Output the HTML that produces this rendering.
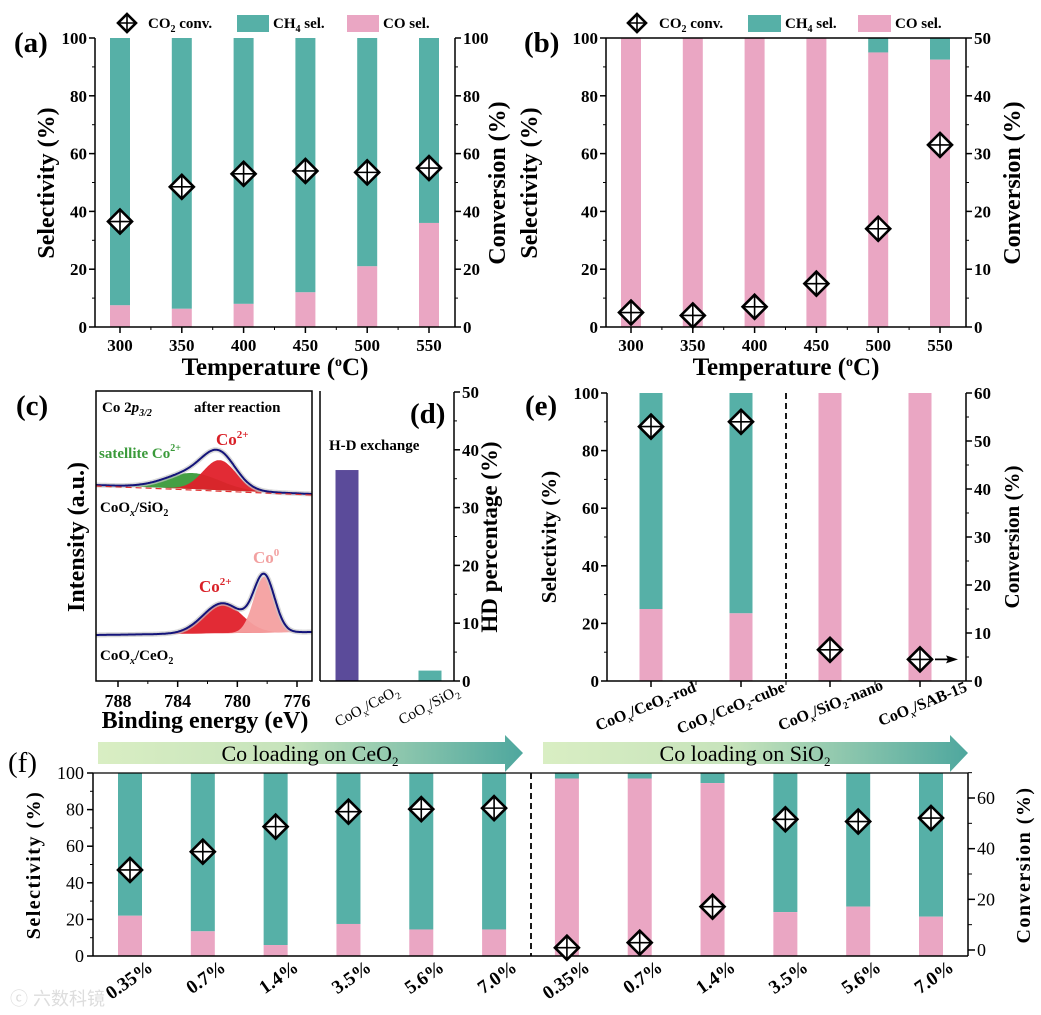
<!DOCTYPE html>
<html><head><meta charset="utf-8">
<style>
html,body{margin:0;padding:0;background:#fff;}
svg{display:block;font-family:"Liberation Serif",serif;font-weight:bold;}
</style></head>
<body>
<svg id="fig" xmlns="http://www.w3.org/2000/svg" width="1041" height="1015" viewBox="0 0 1041 1015">
<defs>
<linearGradient id="arrowGrad" x1="0" x2="1" y1="0" y2="0">
<stop offset="0" stop-color="#d9eec3"/><stop offset="0.45" stop-color="#c6e3bb"/><stop offset="1" stop-color="#4ea79e"/>
</linearGradient>
</defs>
<g id="gA"></g>
<g id="gB"></g>
<g id="gC"></g>
<g id="gD"></g>
<g id="gE"></g>
<g id="gF"></g>

<text x="14" y="52" font-size="29">(a)</text>
<text x="524" y="52" font-size="29">(b)</text>
<text x="16" y="415" font-size="29">(c)</text>
<text x="410" y="423" font-size="29">(d)</text>
<text x="525" y="415" font-size="29">(e)</text>
<text x="8" y="772" font-size="29" font-weight="normal">(f)</text>

<g font-size="15">
<text x="148" y="28">CO<tspan font-size="10" dy="4">2</tspan><tspan dy="-4"> conv.</tspan></text>
<rect x="237" y="15" width="32" height="17" fill="#56b0a7"/>
<text x="273" y="28">CH<tspan font-size="10" dy="4">4</tspan><tspan dy="-4"> sel.</tspan></text>
<rect x="347" y="15" width="32" height="17" fill="#eaa6c3"/>
<text x="383" y="28">CO sel.</text>
</g>
<g font-size="15">
<text x="659" y="28">CO<tspan font-size="10" dy="4">2</tspan><tspan dy="-4"> conv.</tspan></text>
<rect x="748" y="15" width="33" height="17" fill="#56b0a7"/>
<text x="785" y="28">CH<tspan font-size="10" dy="4">4</tspan><tspan dy="-4"> sel.</tspan></text>
<rect x="858" y="15" width="33" height="17" fill="#eaa6c3"/>
<text x="895" y="28">CO sel.</text>
</g>

<text transform="translate(54,183) rotate(-90)" text-anchor="middle" font-size="24">Selectivity (%)</text>
<text transform="translate(505,183) rotate(-90)" text-anchor="middle" font-size="24">Conversion (%)</text>
<text x="275" y="375" text-anchor="middle" font-size="25">Temperature (<tspan font-size="14" dy="-9">o</tspan><tspan dy="9">C)</tspan></text>
<text transform="translate(537,183) rotate(-90)" text-anchor="middle" font-size="24">Selectivity (%)</text>
<text transform="translate(1020,183) rotate(-90)" text-anchor="middle" font-size="24">Conversion (%)</text>
<text x="786" y="375" text-anchor="middle" font-size="25">Temperature (<tspan font-size="14" dy="-9">o</tspan><tspan dy="9">C)</tspan></text>

<text transform="translate(84,537) rotate(-90)" text-anchor="middle" font-size="24">Intensity (a.u.)</text>
<text x="205" y="728" text-anchor="middle" font-size="24">Binding energy (eV)</text>
<text transform="translate(497,537) rotate(-90)" text-anchor="middle" font-size="23">HD percentage (%)</text>
<text transform="translate(556,537) rotate(-90)" text-anchor="middle" font-size="21">Selectivity (%)</text>
<text transform="translate(1019,537) rotate(-90)" text-anchor="middle" font-size="21">Conversion (%)</text>
<text transform="translate(40,865) rotate(-90)" text-anchor="middle" font-size="20" letter-spacing="1.5">Selectivity (%)</text>
<text transform="translate(1030,865) rotate(-90)" text-anchor="middle" font-size="20" letter-spacing="1.5">Conversion (%)</text>

<g font-size="15">
<text x="102" y="412">Co 2<tspan font-style="italic">p</tspan><tspan font-size="10" dy="4" font-style="italic">3/2</tspan></text>
<text x="194" y="412">after reaction</text>
<text x="99" y="458" fill="#3a9a3a">satellite Co<tspan font-size="10" dy="-7">2+</tspan></text>
<text x="216" y="445" fill="#d92027" font-size="17">Co<tspan font-size="11" dy="-7">2+</tspan></text>
<text x="100" y="512">CoO<tspan font-size="10" dy="4" font-style="italic">x</tspan><tspan dy="-4">/SiO</tspan><tspan font-size="10" dy="4">2</tspan></text>
<text x="253" y="563" fill="#f2a0a0" font-size="17">Co<tspan font-size="11" dy="-7">0</tspan></text>
<text x="199" y="592" fill="#d92027" font-size="17">Co<tspan font-size="11" dy="-7">2+</tspan></text>
<text x="100" y="660">CoO<tspan font-size="10" dy="4" font-style="italic">x</tspan><tspan dy="-4">/CeO</tspan><tspan font-size="10" dy="4">2</tspan></text>
</g>
<text x="329" y="450" font-size="15">H-D exchange</text>

<text transform="translate(400,694) rotate(-28)" text-anchor="end" font-size="15" font-weight="normal">CoO<tspan font-size="10" dy="4">x</tspan><tspan dy="-4">/CeO</tspan><tspan font-size="10" dy="4">2</tspan></text>
<text transform="translate(460,694) rotate(-28)" text-anchor="end" font-size="15" font-weight="normal">CoO<tspan font-size="10" dy="4">x</tspan><tspan dy="-4">/SiO</tspan><tspan font-size="10" dy="4">2</tspan></text>

<g font-size="16">
<text transform="translate(697,691) rotate(-22)" text-anchor="end">CoO<tspan font-size="10" dy="4" font-style="italic">x</tspan><tspan dy="-4">/CeO</tspan><tspan font-size="10" dy="4">2</tspan><tspan dy="-4">-rod</tspan></text>
<text transform="translate(786,691) rotate(-22)" text-anchor="end">CoO<tspan font-size="10" dy="4" font-style="italic">x</tspan><tspan dy="-4">/CeO</tspan><tspan font-size="10" dy="4">2</tspan><tspan dy="-4">-cube</tspan></text>
<text transform="translate(884,689) rotate(-22)" text-anchor="end">CoO<tspan font-size="10" dy="4" font-style="italic">x</tspan><tspan dy="-4">/SiO</tspan><tspan font-size="10" dy="4">2</tspan><tspan dy="-4">-nano</tspan></text>
<text transform="translate(968,691) rotate(-22)" text-anchor="end">CoO<tspan font-size="10" dy="4" font-style="italic">x</tspan><tspan dy="-4">/SAB-15</tspan></text>
</g>

<g>
<polygon points="98,742 505,742 505,735 523,753 505,772 505,764 98,764" fill="url(#arrowGrad)"/>
<text x="310" y="761" text-anchor="middle" font-size="22" font-weight="normal">Co loading on CeO<tspan font-size="13" dy="5">2</tspan></text>
</g>
<g>
<polygon points="543,742 950,742 950,735 968,753 950,772 950,764 543,764" fill="url(#arrowGrad)"/>
<text x="745" y="761" text-anchor="middle" font-size="22" font-weight="normal">Co loading on SiO<tspan font-size="13" dy="5">2</tspan></text>
</g>
<text x="10" y="1005" font-size="18" fill="#dddddd" font-weight="normal" font-family="Liberation Sans, Noto Sans CJK SC, sans-serif">ⓒ 六数科镜</text>

<script>
const tempsA = [300, 350, 400, 450, 500, 550];
const coSelA = [7.5, 6.3, 8, 12, 21, 36];
const convA = [36.5, 48.5, 53, 54, 53.5, 55];

const tempsB = [300, 350, 400, 450, 500, 550];
const coSelB = [100, 100, 100, 100, 95, 92.5];
const convB = [2.5, 2, 3.5, 7.5, 17, 31.5];

const xpsTicks = [788, 784, 780, 776];
const peaksTop = [[783, 16, 1.8, "#3a9a3a"], [781.2, 30, 1.1, "#e0202a"]];
const peaksBottom = [[781, 30, 1.3, "#e0202a"], [778.2, 56, 0.7, "#f4a0a0"]];

const catsD = ["CoOx/CeO2", "CoOx/SiO2"];
const hdD = [36.5, 1.8];

const catsE = ["CoOx/CeO2-rod", "CoOx/CeO2-cube", "CoOx/SiO2-nano", "CoOx/SAB-15"];
const coSelE = [25, 23.5, 100, 100];
const convE = [53, 54, 6.5, 4.5];

const catsF = ["0.35%", "0.7%", "1.4%", "3.5%", "5.6%", "7.0%", "0.35%", "0.7%", "1.4%", "3.5%", "5.6%", "7.0%"];
const coSelF = [22, 13.5, 6, 17.5, 14.5, 14.5, 97, 97, 94.5, 24, 27, 21.5];
const convF = [31.6, 38.8, 48.7, 54.6, 55.6, 56, 0.9, 2.9, 17.1, 51.6, 50.7, 52.1];

const selTicks = [0, 20, 40, 60, 80, 100];

const NS = "http://www.w3.org/2000/svg";
const TEAL = "#56b0a7", PINK = "#eaa6c3";
function lin(d0, d1, r0, r1) { return v => r0 + (v - d0) * (r1 - r0) / (d1 - d0); }
function mk(parent, tag, attrs, name) {
  const el = document.createElementNS(NS, tag);
  for (const k in attrs) el.setAttribute(k, attrs[k]);
  
  
  parent.appendChild(el);
  return el;
}
function txt(parent, x, y, s, size, anchor, name) {
  const t = mk(parent, "text", { x: x, y: y, "font-size": size, "text-anchor": anchor }, name);
  t.textContent = s;
  return t;
}
function line(p, x1, y1, x2, y2, name, w, dash) {
  const a = { x1: x1, y1: y1, x2: x2, y2: y2, stroke: "#000", "stroke-width": w || 1.5 };
  if (dash) a["stroke-dasharray"] = dash;
  return mk(p, "line", a, name);
}
function diamond(p, cx, cy, r, name) {
  const g = mk(p, "g", {}, name);
  mk(g, "polygon", { points: `${cx},${cy - r} ${cx + r},${cy} ${cx},${cy + r} ${cx - r},${cy}`, fill: "#fff", stroke: "#000", "stroke-width": 2.6 }, 'marker-diamond');
  mk(g, "line", { x1: cx - r, y1: cy, x2: cx + r, y2: cy, stroke: "#000", "stroke-width": 1.6 }, 'marker-cross-h');
  mk(g, "line", { x1: cx, y1: cy - r, x2: cx, y2: cy + r, stroke: "#000", "stroke-width": 1.6 }, 'marker-cross-v');
  return g;
}
function leftAxis(p, x, y, ticks, minorStep, dom, size, name) {
  line(p, x, y(dom[0]), x, y(dom[1]), name + '-line');
  for (let v = dom[0]; v <= dom[1] + 1e-9; v += minorStep) line(p, x, y(v), x - 3, y(v), name + '-minor-tick', 1);
  ticks.forEach(v => { line(p, x, y(v), x - 6, y(v), name + '-tick', 1.5); txt(p, x - 8, y(v) + 6, String(v), size, "end", name + '-tick-label'); });
}
function rightAxis(p, x, y, ticks, minorStep, dom, size, name) {
  line(p, x, y(dom[0]), x, y(dom[1]), name + '-line');
  for (let v = dom[0]; v <= dom[1] + 1e-9; v += minorStep) line(p, x, y(v), x + 3, y(v), name + '-minor-tick', 1);
  ticks.forEach(v => { line(p, x, y(v), x + 6, y(v), name + '-tick', 1.5); txt(p, x + 8, y(v) + 6, String(v), size, "start", name + '-tick-label'); });
}

(function () {
  const g = document.getElementById('gA');
  const x = lin(300, 550, 120, 429), y = lin(0, 100, 327, 38), y2 = lin(0, 100, 327, 38);
  tempsA.forEach((t, i) => {
    const b1 = mk(g, "rect", { x: x(t) - 10, y: y(100), width: 20, height: y(coSelA[i]) - y(100), fill: TEAL }, 'bar');
    
    const b2 = mk(g, "rect", { x: x(t) - 10, y: y(coSelA[i]), width: 20, height: y(0) - y(coSelA[i]), fill: PINK }, 'bar');
    
  });
  leftAxis(g, 95, y, selTicks, 10, [0, 100], 17, 'y-axis-a');
  rightAxis(g, 455, y2, selTicks, 10, [0, 100], 17, 'y2-axis-a');
  line(g, 95, 327, 455, 327, 'x-axis-a');
  tempsA.forEach(t => { line(g, x(t), 327, x(t), 333, 'x-tick-a'); txt(g, x(t), 351, String(t), 17, "middle", 'x-tick-label-a'); });
  [325, 375, 425, 475, 525].forEach(t => line(g, x(t), 327, x(t), 330, 'x-minor-tick-a', 1));
  tempsA.forEach((t, i) => diamond(g, x(t), y2(convA[i]), 12, 'conv-marker-a'));
  diamond(g, 127, 23, 9, 'legend-marker-a');
})();

(function () {
  const g = document.getElementById('gB');
  const x = lin(300, 550, 631, 940), y = lin(0, 100, 327, 38), y2 = lin(0, 50, 327, 38);
  tempsB.forEach((t, i) => {
    const b1 = mk(g, "rect", { x: x(t) - 10, y: y(100), width: 20, height: y(coSelB[i]) - y(100), fill: TEAL }, 'bar');
    
    const b2 = mk(g, "rect", { x: x(t) - 10, y: y(coSelB[i]), width: 20, height: y(0) - y(coSelB[i]), fill: PINK }, 'bar');
    
  });
  leftAxis(g, 606, y, selTicks, 10, [0, 100], 17, 'y-axis-b');
  rightAxis(g, 966, y2, [0, 10, 20, 30, 40, 50], 5, [0, 50], 17, 'y2-axis-b');
  line(g, 606, 327, 966, 327, 'x-axis-b');
  line(g, 606, 38, 966, 38, 'top-axis-b');
  tempsB.forEach(t => { line(g, x(t), 327, x(t), 333, 'x-tick-b'); txt(g, x(t), 351, String(t), 17, "middle", 'x-tick-label-b'); });
  [325, 375, 425, 475, 525].forEach(t => line(g, x(t), 327, x(t), 330, 'x-minor-tick-b', 1));
  tempsB.forEach((t, i) => diamond(g, x(t), y2(convB[i]), 12, 'conv-marker-b'));
  diamond(g, 637, 23, 9, 'legend-marker-b');
})();

(function () {
  const g = document.getElementById('gC');
  const x = lin(788, 776, 118, 297);
  const E0 = 789.5, E1 = 775;
  function gauss(E, p) { return p[1] * Math.exp(-0.5 * Math.pow((E - p[0]) / p[2], 2)); }
  function draw(peaks, b0, b1, name) {
    const base = E => b0 + (b1 - b0) * (E0 - E) / (E0 - E1);
    peaks.forEach(p => {
      let d = "";
      for (let E = E0; E >= E1 - 1e-9; E -= 0.05) d += (d ? "L" : "M") + x(E).toFixed(1) + "," + (base(E) - gauss(E, p)).toFixed(1);
      for (let E = E1; E <= E0 + 1e-9; E += 0.5) d += "L" + x(E).toFixed(1) + "," + base(E).toFixed(1);
      mk(g, "path", { d: d + "Z", fill: p[3], opacity: 0.95 }, name + '-component');
    });
    let env = "";
    for (let E = E0; E >= E1 - 1e-9; E -= 0.05) {
      let s = 0; peaks.forEach(p => s += gauss(E, p));
      env += (env ? "L" : "M") + x(E).toFixed(1) + "," + (base(E) - s).toFixed(1);
    }
    mk(g, "path", { d: env, fill: "none", stroke: "#c8c8c8", "stroke-width": 5, opacity: 0.7 }, name + '-raw-data');
    mk(g, "path", { d: env, fill: "none", stroke: "#14147a", "stroke-width": 2 }, name + '-envelope');
    return base;
  }
  const bt = draw(peaksTop, 485, 494, 'xps-sio2');
  mk(g, "line", { x1: x(E0), y1: bt(E0) + 1, x2: x(E1), y2: bt(E1) + 1, stroke: "#e03030", "stroke-width": 1.2, "stroke-dasharray": "6,4" }, 'xps-sio2-baseline');
  draw(peaksBottom, 635, 632, 'xps-ceo2');
  mk(g, "rect", { x: 96, y: 391, width: 216, height: 290, fill: "none", stroke: "#000", "stroke-width": 1.5 }, 'plot-frame-c');
  xpsTicks.forEach(v => { line(g, x(v), 681, x(v), 687, 'x-tick-c'); txt(g, x(v), 707, String(v), 18, "middle", 'x-tick-label-c'); });
  [786, 782, 778].forEach(v => line(g, x(v), 681, x(v), 684, 'x-minor-tick-c', 1));
})();

(function () {
  const g = document.getElementById('gD');
  const y = lin(0, 50, 681, 392);
  const xc = [347, 430], cols = ["#5b4b9a", TEAL];
  catsD.forEach((c, i) => {
    const b = mk(g, "rect", { x: xc[i] - 11.5, y: y(hdD[i]), width: 23, height: y(0) - y(hdD[i]), fill: cols[i] }, 'bar');
    
  });
  line(g, 320, 391, 320, 681, 'frame-left-d');
  line(g, 320, 681, 454, 681, 'x-axis-d');
  rightAxis(g, 454, y, [0, 10, 20, 30, 40, 50], 5, [0, 50], 17, 'y-axis-d');
})();

(function () {
  const g = document.getElementById('gE');
  const xc = [651, 741, 830, 920];
  const y = lin(0, 100, 681, 393), y2 = lin(0, 60, 681, 393);
  catsE.forEach((c, i) => {
    const b1 = mk(g, "rect", { x: xc[i] - 11.5, y: y(100), width: 23, height: y(coSelE[i]) - y(100), fill: TEAL }, 'bar');
    
    const b2 = mk(g, "rect", { x: xc[i] - 11.5, y: y(coSelE[i]), width: 23, height: y(0) - y(coSelE[i]), fill: PINK }, 'bar');
    
  });
  leftAxis(g, 607, y, selTicks, 10, [0, 100], 17, 'y-axis-e');
  rightAxis(g, 966, y2, [0, 10, 20, 30, 40, 50, 60], 5, [0, 60], 17, 'y2-axis-e');
  line(g, 607, 681, 966, 681, 'x-axis-e');
  xc.forEach(v => line(g, v, 681, v, 687, 'x-tick-e'));
  [696, 786, 875].forEach(v => line(g, v, 681, v, 685, 'x-minor-tick-e', 1));
  line(g, 786, 393, 786, 681, 'divider-e', 1.8, "6,4");
  catsE.forEach((c, i) => diamond(g, xc[i], y2(convE[i]), 12, 'conv-marker-e'));
  const ay = y2(convE[3]);
  line(g, 935, ay, 955, ay, 'arrow-shaft-e', 1.8);
  mk(g, "polygon", { points: `958,${ay} 946,${ay - 4} 948,${ay} 946,${ay + 4}`, fill: "#000" }, 'arrow-head-e');
})();

(function () {
  const g = document.getElementById('gF');
  const x = lin(0, 11, 130, 931);
  const y = lin(0, 100, 956, 773), y2 = lin(0, 60, 950, 798);
  catsF.forEach((c, i) => {
    const b1 = mk(g, "rect", { x: x(i) - 12, y: y(100), width: 24, height: y(coSelF[i]) - y(100), fill: TEAL }, 'bar');
    
    const b2 = mk(g, "rect", { x: x(i) - 12, y: y(coSelF[i]), width: 24, height: y(0) - y(coSelF[i]), fill: PINK }, 'bar');
    
  });
  line(g, 93, 773, 968, 773, 'top-axis-f', 1.2);
  line(g, 93, 956, 968, 956, 'x-axis-f');
  line(g, 93, 773, 93, 956, 'y-axis-f-line');
  for (let v = 0; v <= 100; v += 10) line(g, 93, y(v), 90, y(v), 'y-axis-f-minor-tick', 1);
  selTicks.forEach(v => { line(g, 93, y(v), 87, y(v), 'y-axis-f-tick'); txt(g, 84, y(v) + 6, String(v), 18, "end", 'y-axis-f-tick-label').setAttribute('font-weight', 'normal'); });
  line(g, 968, 773, 968, 956, 'y2-axis-f-line');
  for (let v = 0; v <= 70; v += 10) line(g, 968, y2(v), 972, y2(v), 'y2-axis-f-minor-tick', 1);
  [0, 20, 40, 60].forEach(v => { line(g, 968, y2(v), 975, y2(v), 'y2-axis-f-tick'); txt(g, 977, y2(v) + 6, String(v), 18, "start", 'y2-axis-f-tick-label').setAttribute('font-weight', 'normal'); });
  line(g, 531, 773, 531, 956, 'divider-f', 1.8, "6,4");
  catsF.forEach((c, i) => {
    const t = mk(g, "text", { transform: `translate(${x(i) + 24},970) rotate(-35)`, "text-anchor": "end", "font-size": 19 }, 'x-tick-label-f');
    t.textContent = c;
  });
  catsF.forEach((c, i) => diamond(g, x(i), y2(convF[i]), 12, 'conv-marker-f'));
})();
</script>
</svg>
</body></html>
